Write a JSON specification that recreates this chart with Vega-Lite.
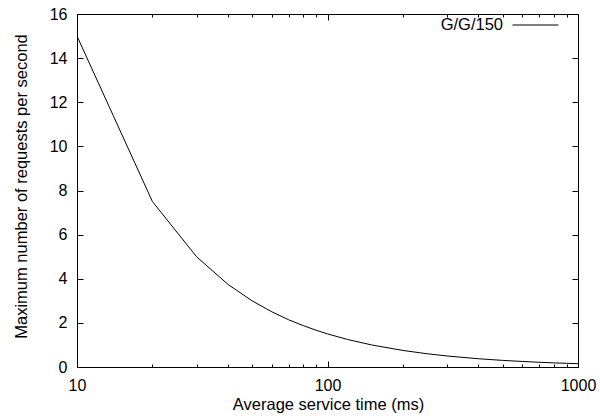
{
  "$schema": "https://vega.github.io/schema/vega-lite/v6.json",
  "autosize": "none",
  "width": 501,
  "height": 353,
  "padding": {"left": 77, "top": 14, "right": 22, "bottom": 52},
  "background": "white",
  "config": {
    "font": "Liberation Sans",
    "view": {"stroke": "black", "strokeWidth": 1},
    "axis": {
      "labelFont": "Liberation Sans",
      "titleFont": "Liberation Sans",
      "labelFontSize": 16,
      "titleFontSize": 16.5,
      "titleFontWeight": "normal",
      "labelColor": "black",
      "titleColor": "black",
      "domainColor": "black",
      "tickColor": "black",
      "grid": false
    }
  },
  "data": {
    "values": [
      {"t": 10, "r": 15, "s": "G/G/150"},
      {"t": 20, "r": 7.5, "s": "G/G/150"},
      {"t": 30, "r": 5, "s": "G/G/150"},
      {"t": 40, "r": 3.75, "s": "G/G/150"},
      {"t": 50, "r": 3, "s": "G/G/150"},
      {"t": 60, "r": 2.5, "s": "G/G/150"},
      {"t": 70, "r": 2.14, "s": "G/G/150"},
      {"t": 80, "r": 1.875, "s": "G/G/150"},
      {"t": 90, "r": 1.667, "s": "G/G/150"},
      {"t": 100, "r": 1.5, "s": "G/G/150"},
      {"t": 120, "r": 1.25, "s": "G/G/150"},
      {"t": 150, "r": 1, "s": "G/G/150"},
      {"t": 200, "r": 0.75, "s": "G/G/150"},
      {"t": 250, "r": 0.6, "s": "G/G/150"},
      {"t": 300, "r": 0.5, "s": "G/G/150"},
      {"t": 400, "r": 0.375, "s": "G/G/150"},
      {"t": 500, "r": 0.3, "s": "G/G/150"},
      {"t": 600, "r": 0.25, "s": "G/G/150"},
      {"t": 700, "r": 0.214, "s": "G/G/150"},
      {"t": 800, "r": 0.1875, "s": "G/G/150"},
      {"t": 900, "r": 0.167, "s": "G/G/150"},
      {"t": 1000, "r": 0.15, "s": "G/G/150"}
    ]
  },
  "layer": [
    {
      "mark": {"type": "line", "strokeWidth": 1, "clip": true},
      "encoding": {
        "x": {
          "field": "t", "type": "quantitative",
          "scale": {"type": "log", "domain": [10, 1000], "nice": false},
          "axis": {
            "orient": "bottom",
            "title": "Average service time (ms)",
            "values": [10, 20, 30, 40, 50, 60, 70, 80, 90, 100, 200, 300, 400, 500, 600, 700, 800, 900, 1000],
            "labelExpr": "(datum.value == 10 || datum.value == 100 || datum.value == 1000) ? format(datum.value, 'd') : ''",
            "tickSize": {"condition": {"test": "datum.value == 10 || datum.value == 100 || datum.value == 1000", "value": -6}, "value": -3},
            "labelPadding": 16,
            "labelFlush": false,
            "labelOverlap": false,
            "titleX": 251,
            "titleY": 37,
            "titleBaseline": "middle"
          }
        },
        "y": {
          "field": "r", "type": "quantitative",
          "scale": {"domain": [0, 16], "nice": false, "zero": true},
          "axis": {
            "orient": "left",
            "title": "Maximum number of requests per second",
            "values": [0, 2, 4, 6, 8, 10, 12, 14, 16],
            "tickSize": -6,
            "labelPadding": 16,
            "labelBaseline": "middle",
            "titleX": -55.5,
            "titleY": 172,
            "titleBaseline": "middle"
          }
        },
        "color": {
          "field": "s", "type": "nominal",
          "scale": {"range": ["black"]},
          "legend": {
            "title": null,
            "orient": "none",
            "legendX": 435,
            "legendY": -12.5,
            "padding": 0,
            "symbolType": "stroke",
            "symbolSize": 2116,
            "symbolStrokeWidth": 1,
            "labelFont": "Liberation Sans",
            "labelFontSize": 16.5,
            "labelColor": "black",
            "labelAlign": "right",
            "labelOffset": -56
          }
        }
      }
    },
    {
      "mark": {"type": "line", "strokeWidth": 1, "opacity": 0},
      "encoding": {
        "x": {
          "field": "t", "type": "quantitative",
          "scale": {"type": "log", "domain": [10, 1000], "nice": false},
          "axis": {
            "orient": "top",
            "title": null,
            "labels": false,
            "values": [10, 20, 30, 40, 50, 60, 70, 80, 90, 100, 200, 300, 400, 500, 600, 700, 800, 900, 1000],
            "tickSize": {"condition": {"test": "datum.value == 10 || datum.value == 100 || datum.value == 1000", "value": -6}, "value": -3}
          }
        },
        "y": {
          "field": "r", "type": "quantitative",
          "scale": {"domain": [0, 16], "nice": false, "zero": true},
          "axis": {
            "orient": "right",
            "title": null,
            "labels": false,
            "values": [0, 2, 4, 6, 8, 10, 12, 14, 16],
            "tickSize": -6
          }
        }
      }
    }
  ],
  "resolve": {"scale": {"x": "independent", "y": "independent"}}
}
